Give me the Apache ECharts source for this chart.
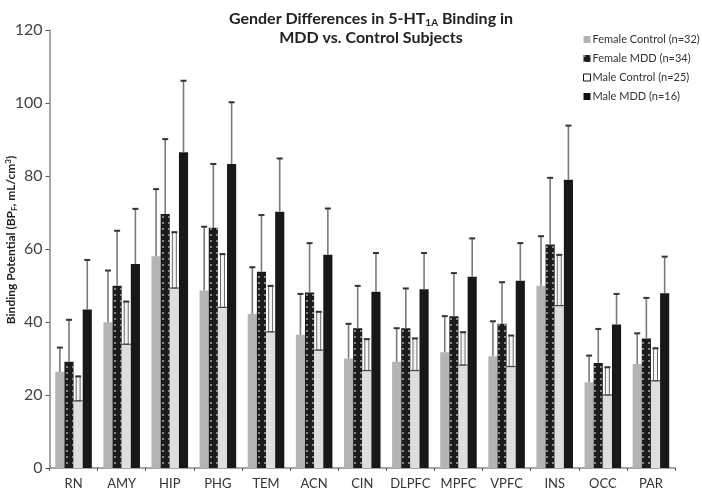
<!DOCTYPE html>
<html>
<head>
<meta charset="utf-8">
<script src="https://cdn.jsdelivr.net/npm/echarts@6/dist/echarts.min.js"></script>
<style>html,body{margin:0;padding:0;background:#fff}#c{width:702px;height:490px}</style>
</head>
<body>
<div id="c"></div>
<script>
const categories = ['RN','AMY','HIP','PHG','TEM','ACN','CIN','DLPFC','MPFC','VPFC','INS','OCC','PAR'];
const seriesNames = ['Female Control (n=32)','Female MDD (n=34)','Male Control (n=25)','Male MDD (n=16)'];
const femaleControl = [26.4,39.9,58.0,48.6,42.2,36.5,30.0,29.1,31.7,30.6,49.9,23.5,28.5];
const femaleControlSD = [6.6,14.2,18.4,17.5,12.8,11.2,9.5,9.2,9.9,9.6,13.6,7.3,8.4];
const femaleMDD = [29.1,49.9,69.6,65.8,53.8,48.1,38.3,38.3,41.6,39.5,61.2,28.8,35.5];
const femaleMDDSD = [11.5,15.1,20.5,17.5,15.5,13.5,11.6,10.9,11.8,11.4,18.3,9.3,11.1];
const maleControl = [18.4,33.9,49.3,44.0,37.3,32.3,26.7,26.7,28.2,27.8,44.5,20.0,23.9];
const maleControlSD = [6.7,11.7,15.3,14.6,12.6,10.5,8.6,8.8,9.0,8.5,13.9,7.6,8.9];
const maleMDD = [43.4,55.9,86.5,83.3,70.2,58.4,48.3,49.0,52.4,51.3,79.0,39.3,47.9];
const maleMDDSD = [13.6,15.1,19.6,16.9,14.6,12.7,10.6,9.9,10.5,10.3,14.8,8.4,10.0];

const means = [femaleControl, femaleMDD, maleControl, maleMDD];
const sds = [femaleControlSD, femaleMDDSD, maleControlSD, maleMDDSD];
const CAT_GAP = 0.24;
const FONT = 'Lato, "Open Sans", sans-serif';

const barStyles = [
  {color:'#b4b4b4'},
  {color:'#1c1c1c', decal:{symbol:'rect', symbolSize:1, color:'rgba(170,170,170,0.75)', dashArrayX:[1.2,3.6], dashArrayY:[1.2,3.6], rotation:0}},
  {color:'#dedede'},
  {color:'#181818'}
];

const series = [];
means.forEach((m, i) => {
  series.push({
    name: seriesNames[i], type:'bar', data: m,
    barGap:'0%', barCategoryGap: (CAT_GAP*100)+'%',
    itemStyle: barStyles[i], z:2
  });
});
means.forEach((m, i) => {
  series.push({
    name: seriesNames[i], type:'custom', z:5, silent:true,
    data: m.map((v, k) => [k, v, sds[i][k]]),
    renderItem: function(params, api){
      const k = api.value(0), v = api.value(1), sd = api.value(2);
      const bw = api.size([1,0])[0];
      const w = bw*(1-CAT_GAP)/4;
      const off = (i-1.5)*w;
      const p0 = api.coord([k, v]);
      const p1 = api.coord([k, v+sd]);
      const x = p0[0]+off;
      const children = [];
      if (i === 2) {
        children.push({type:'rect', shape:{x:x-2, y:p1[1], width:4, height:p0[1]-p1[1]}, style:{fill:'#f4f4f4', stroke:'#6a6a6a', lineWidth:1}});
        children.push({type:'line', shape:{x1:x-w/2, y1:p0[1], x2:x+w/2, y2:p0[1]}, style:{stroke:'#444', lineWidth:1.2}});
      } else {
        children.push({type:'line', shape:{x1:x, y1:p0[1], x2:x, y2:p1[1]}, style:{stroke:'#7a7a7a', lineWidth:1.6}});
      }
      children.push({type:'line', shape:{x1:x-3, y1:p1[1], x2:x+3, y2:p1[1]}, style:{stroke:'#333', lineWidth:2}});
      return {type:'group', children};
    }
  });
});

const chart = echarts.init(document.getElementById('c'));
chart.setOption({
  animation:false,
  backgroundColor:'#fff',
  title:{
    text:'{a|Gender Differences in 5-HT}{s|1A}{a| Binding in}\n{a|MDD vs. Control Subjects}',
    left:366, top:4, textAlign:'center',
    textStyle:{rich:{
      a:{fontFamily:FONT, fontWeight:'bold', fontSize:16, color:'#222', lineHeight:19},
      s:{fontFamily:FONT, fontWeight:'bold', fontSize:10, color:'#222', lineHeight:19, verticalAlign:'bottom', padding:[8,0,0,0]}
    }}
  },
  legend:{
    orient:'vertical', left:578, top:29, itemWidth:7, itemHeight:7, itemGap:8,
    icon:'rect',
    textStyle:{fontFamily:FONT, fontSize:11, color:'#333', padding:[0,0,0,-3]},
    data:[
      {name:seriesNames[0], itemStyle:{color:'#b4b4b4'}},
      {name:seriesNames[1], itemStyle:{color:'#1c1c1c'}},
      {name:seriesNames[2], itemStyle:{color:'#fff', borderColor:'#111', borderWidth:1}},
      {name:seriesNames[3], itemStyle:{color:'#111'}}
    ]
  },
  grid:{left:49.5, right:27, top:30, bottom:21, containLabel:false},
  xAxis:{
    type:'category', data:categories,
    axisLine:{lineStyle:{color:'#8a8a8a', width:1.5}},
    axisTick:{show:true, length:3, lineStyle:{color:'#555'}},
    axisLabel:{fontFamily:FONT, fontSize:13, color:'#333', margin:9, interval:0}
  },
  yAxis:{
    type:'value', min:0, max:120, interval:20,
    axisLine:{show:true, lineStyle:{color:'#8a8a8a', width:1.5}},
    axisTick:{show:true, length:4, lineStyle:{color:'#555'}},
    axisLabel:{fontFamily:FONT, fontSize:16, color:'#444', margin:7},
    splitLine:{show:false}
  },
  graphic:[{
    type:'text', x:4, y:240, rotation:Math.PI/2,
    style:{
      text:'{a|Binding Potential (BP}{s|F}{a|, mL/cm}{p|3}{a|)}',
      align:'center', verticalAlign:'top',
      rich:{
        a:{fontFamily:FONT, fontWeight:'bold', fontSize:12, fill:'#222', lineHeight:14},
        s:{fontFamily:FONT, fontWeight:'bold', fontSize:8, fill:'#222', lineHeight:14, padding:[6,0,0,0]},
        p:{fontFamily:FONT, fontWeight:'bold', fontSize:8, fill:'#222', lineHeight:14, padding:[0,0,6,0]}
      }
    }
  }],
  series
});
</script>
</body>
</html>
